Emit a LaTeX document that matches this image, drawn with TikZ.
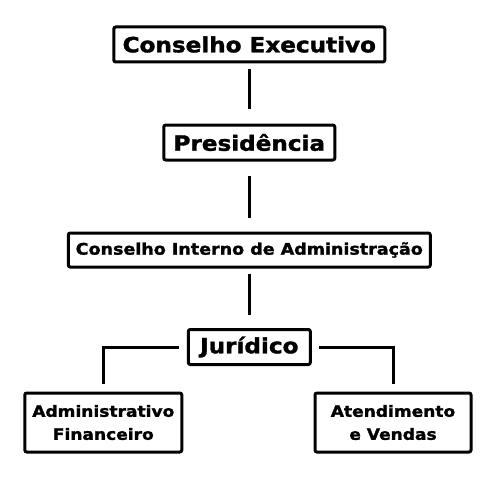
\documentclass[tikz,border=0pt]{standalone}
\usepackage{fontspec}
\newfontfamily\boxfont[FakeStretch=1.1,FakeBold=1.6]{DejaVu Sans}
\begin{document}
\begin{tikzpicture}[x=1pt,y=-1pt,
  orgbox/.style={draw=black, line width=3pt, rounded corners=2pt, fill=white,
    inner sep=0pt, align=center, font=\boxfont\bfseries},
  bigtext/.style={font=\boxfont\bfseries\fontsize{21}{25}\selectfont},
  midtext/.style={font=\boxfont\bfseries\fontsize{15.9}{19}\selectfont},
  smalltext/.style={font=\boxfont\bfseries\fontsize{15.5}{23}\selectfont},
  link/.style={draw=black, line width=3pt}]
\useasboundingbox[fill=white] (0,0) rectangle (500,500);
\node[orgbox, bigtext, minimum width=271pt, minimum height=35pt] (ce) at (249.3,44.5) {Conselho Executivo};
\node[orgbox, bigtext, minimum width=171pt, minimum height=35pt] (pres) at (249.3,142.5) {Presidência};
\node[orgbox, midtext, minimum width=362pt, minimum height=34pt] (cia) at (249.3,250) {Conselho Interno de Administração};
\node[orgbox, bigtext, minimum width=122pt, minimum height=35pt] (jur) at (249.3,347) {Jurídico};
\node[orgbox, smalltext, minimum width=157pt, minimum height=59pt] (adm) at (103.3,422.5) {Administrativo\\Financeiro};
\node[orgbox, smalltext, minimum width=156pt, minimum height=59pt] (ate) at (393,422.5) {Atendimento\\e Vendas};
\draw[link, shorten <=6pt, shorten >=14pt] (ce.south) -- (pres.north);
\draw[link, shorten <=14pt, shorten >=14pt] (pres.south) -- (cia.north);
\draw[link, shorten <=5pt, shorten >=13pt] (cia.south) -- (jur.north);
\draw[link, shorten <=8pt, shorten >=8pt] (jur.west) -| (adm.north);
\draw[link, shorten <=7pt, shorten >=8pt] (jur.east) -| (ate.north);
\end{tikzpicture}
\end{document}
